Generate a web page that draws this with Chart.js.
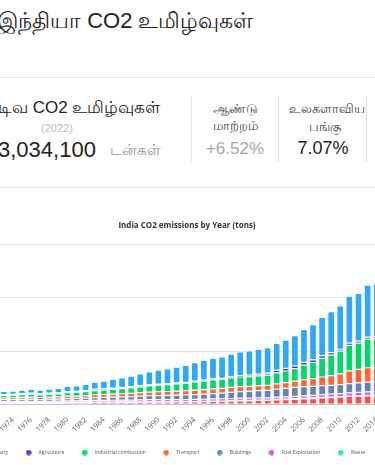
<!DOCTYPE html>
<html>
<head>
<meta charset="utf-8">
<script src="https://cdn.jsdelivr.net/npm/chart.js@4"></script>
<style>
  html, body { margin: 0; padding: 0; background: #fff; overflow: hidden; }
  body { width: 375px; height: 465px; position: relative; font-family: Arial, "Liberation Sans", sans-serif; color: #222; }
  .t { position: absolute; white-space: nowrap; line-height: 1; }
  .c { text-align: center; }
  .hr { position: absolute; left: 0; width: 375px; height: 1px; background: #e6e6e6; }
  .vr { position: absolute; top: 96px; width: 1px; height: 66px; background: #e2e2e2; }
  #box { position: absolute; left: -80px; top: 210px; width: 540px; height: 255px; }
</style>
</head>
<body>
<div class="t" id="title" data-x="87" style="top:10px;font-size:22px;"><span>இந்தியா </span><span class="a">CO2</span> உமிழ்வுகள்</div>
<div class="hr" style="top:77px"></div>

<div class="t" id="s1" data-x="33" style="top:99px;font-size:17px;"><span>புதைபடிவ </span><span class="a">CO2</span> உமிழ்வுகள்</div>
<div class="t c" style="left:27px;width:60px;top:123px;font-size:11px;color:#bdbdbd;">(2022)</div>
<div class="t" style="left:-2px;top:139px;font-size:22px;">3,034,100</div>
<div class="t" style="left:110px;top:142px;font-size:15px;color:#9a9a9a;">டன்கள்</div>

<div class="vr" style="left:191px"></div>
<div class="t c" style="left:195px;width:80px;top:100px;font-size:13px;line-height:17px;color:#444;">ஆண்டு<br>மாற்றம்</div>
<div class="t c" style="left:195px;width:80px;top:140px;font-size:17px;color:#a8a8a8;">+6.52%</div>

<div class="vr" style="left:278px"></div>
<div class="t c" style="left:289px;width:72px;top:100px;font-size:13px;line-height:18px;color:#444;">உலகளாவிய<br>பங்கு</div>
<div class="t c" style="left:282px;width:82px;top:139px;font-size:18px;color:#222;">7.07%</div>
<div class="vr" style="left:366px"></div>

<div class="hr" style="top:187px"></div>

<div id="box"><canvas id="co2"></canvas></div>

<script>
// values are in tons (x1000 applied below)
const years = [1970, 1971, 1972, 1973, 1974, 1975, 1976, 1977, 1978, 1979,
  1980, 1981, 1982, 1983, 1984, 1985, 1986, 1987, 1988, 1989,
  1990, 1991, 1992, 1993, 1994, 1995, 1996, 1997, 1998, 1999,
  2000, 2001, 2002, 2003, 2004, 2005, 2006, 2007, 2008, 2009,
  2010, 2011, 2012, 2013, 2014, 2015, 2016, 2017, 2018, 2019,
  2020, 2021, 2022];

const processes = [24, 25, 26, 27, 28, 29, 31, 29, 31, 31,
  34, 34, 35, 39, 38, 38, 39, 40, 42, 44,
  45, 46, 48, 49, 51, 54, 58, 61, 65, 69,
  70, 75, 76, 85, 90, 97, 104, 112, 122, 130,
  139, 150, 152, 160, 161, 162, 165, 171, 185, 181,
  160, 195, 197];
const waste = [4, 4, 5, 5, 5, 5, 5, 5, 5, 6,
  7, 8, 8, 8, 9, 9, 9, 9, 9, 8,
  6, 6, 4, 4, 3, 3, 4, 5, 6, 8,
  10, 9, 9, 10, 12, 12, 12, 12, 12, 11,
  9, 10, 13, 12, 12, 14, 14, 14, 15, 15,
  13, 15, 16];
const fuelExploitation = [22, 22, 23, 23, 23, 24, 25, 23, 25, 25,
  27, 27, 29, 31, 32, 33, 34, 35, 37, 38,
  39, 39, 40, 40, 41, 42, 42, 42, 42, 42,
  40, 40, 41, 42, 43, 45, 47, 49, 52, 54,
  56, 60, 63, 66, 67, 68, 70, 70, 72, 72,
  68, 72, 74];
const buildings = [32, 33, 34, 35, 36, 37, 39, 37, 39, 40,
  44, 45, 48, 52, 54, 57, 60, 64, 69, 74,
  78, 80, 83, 86, 91, 95, 101, 106, 114, 122,
  131, 136, 140, 149, 158, 167, 171, 168, 166, 164,
  167, 172, 177, 182, 180, 183, 186, 188, 192, 194,
  190, 194, 196];
const transport = [30, 32, 33, 35, 35, 38, 40, 37, 39, 40,
  44, 45, 48, 53, 55, 57, 60, 62, 66, 69,
  71, 73, 76, 79, 83, 87, 90, 90, 93, 94,
  91, 93, 95, 102, 108, 116, 130, 142, 164, 183,
  204, 238, 253, 270, 272, 280, 291, 302, 318, 325,
  285, 318, 345];
const industrial = [43, 45, 46, 48, 49, 51, 55, 51, 55, 58,
  65, 66, 72, 79, 83, 90, 95, 101, 109, 117,
  123, 128, 136, 143, 155, 164, 168, 170, 177, 181,
  181, 186, 192, 206, 218, 235, 275, 305, 350, 385,
  425, 480, 494, 535, 540, 555, 572, 595, 630, 650,
  610, 675, 715];
const agriculture = [13, 14, 14, 15, 15, 17, 18, 18, 18, 19,
  22, 22, 23, 25, 25, 25, 24, 24, 24, 21,
  19, 18, 17, 16, 15, 15, 17, 19, 24, 28,
  30, 32, 35, 45, 47, 51, 50, 50, 52, 48,
  37, 42, 38, 40, 40, 38, 37, 38, 38, 38,
  34, 36, 37];
const power = [47, 51, 55, 59, 61, 67, 73, 70, 78, 85,
  99, 103, 115, 131, 141, 166, 179, 197, 220, 243,
  265, 280, 299, 318, 345, 370, 388, 399, 423, 443,
  453, 468, 481, 506, 533, 568, 620, 658, 721, 766,
  814, 880, 893, 975, 990, 1010, 1040, 1082, 1160, 1150,
  1080, 1215, 1325];

// bottom of the stack first; the legend is shown reversed
const series = [
  { label: 'Processes', values: processes, color: '#ff4c4c' },
  { label: 'Waste', values: waste, color: '#33dcbc' },
  { label: 'Fuel Exploitation', values: fuelExploitation, color: '#d257f2' },
  { label: 'Buildings', values: buildings, color: '#6683b8' },
  { label: 'Transport', values: transport, color: '#ff6633' },
  { label: 'Industrial combustion', values: industrial, color: '#00d66a' },
  { label: 'Agriculture', values: agriculture, color: '#4a44b8' },
  { label: 'Power Industry', values: power, color: '#2ea8f7' }
];

// line up the header texts on their "CO2" word
document.querySelectorAll('[data-x]').forEach(el => {
  const a = el.querySelector('.a');
  el.style.left = (Number(el.dataset.x) - a.offsetLeft) + 'px';
});

function dot(color) {
  const c = document.createElement('canvas');
  c.width = 6; c.height = 6;
  const g = c.getContext('2d');
  g.fillStyle = color;
  g.beginPath();
  g.arc(3, 3, 2.7, 0, Math.PI * 2);
  g.fill();
  return c;
}

new Chart(document.getElementById('co2'), {
  type: 'bar',
  data: {
    labels: years.map(String),
    datasets: series.map(s => ({
      label: s.label,
      data: s.values.map(v => v * 1000),
      backgroundColor: s.color,
      borderColor: 'rgba(255,255,255,0.7)',
      borderWidth: 0.6,
      borderRadius: 1.5,
      borderSkipped: false,
      barPercentage: 1,
      categoryPercentage: 0.76
    }))
  },
  options: {
    responsive: true,
    maintainAspectRatio: false,
    animation: false,
    layout: { padding: { right: 6 } },
    plugins: {
      title: {
        display: true,
        text: 'India CO2 emissions by Year (tons)',
        color: '#333',
        font: { family: 'Open Sans', size: 8, weight: 'bold' },
        padding: { top: 11, bottom: 14 }
      },
      legend: {
        position: 'bottom',
        reverse: true,
        labels: {
          usePointStyle: true,
          pointStyleWidth: 15,
          padding: 13,
          color: '#555',
          font: { family: 'Open Sans', size: 5 },
          generateLabels: chart => Chart.defaults.plugins.legend.labels.generateLabels(chart)
            .map(item => Object.assign(item, { pointStyle: dot(series[item.datasetIndex].color) }))
        }
      },
      tooltip: { enabled: false }
    },
    scales: {
      x: {
        stacked: true,
        grid: { display: false },
        border: { color: '#c8c8c8' },
        ticks: {
          color: '#666',
          font: { family: 'Open Sans', size: 7.5 },
          minRotation: 45,
          maxRotation: 45,
          autoSkip: false,
          callback: (v, i) => (i % 2 === 0 ? years[i] : '')
        }
      },
      y: {
        stacked: true,
        beginAtZero: true,
        ticks: { stepSize: 1000000, color: '#666', font: { family: 'Open Sans', size: 7 } },
        afterFit: scale => { scale.width = 52; }
      }
    }
  }
});
</script>
</body>
</html>
